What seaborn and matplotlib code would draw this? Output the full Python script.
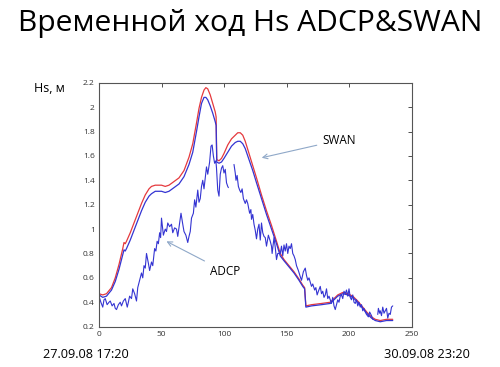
import numpy as np
import pandas as pd
import matplotlib
matplotlib.use("Agg")
import matplotlib.pyplot as plt
from matplotlib.ticker import FuncFormatter
import seaborn as sns

# model runs (smooth curves)
swan_x = [0, 3, 6, 10, 13, 16, 19, 20, 21, 22, 25, 28, 31, 34, 37, 40, 42, 45, 50, 53, 56,
          60, 64, 68, 72, 75, 78, 80, 82, 84, 85.5, 87, 89, 91, 93, 93.7, 94.2, 96, 98,
          100, 103, 106, 109, 111, 113, 115, 117, 120, 123, 126, 130, 134, 138, 142, 145,
          148, 152, 156, 160, 163, 164.5, 165.5, 170, 178, 185, 188, 191, 195, 199, 203,
          207, 211, 215, 218, 221, 225, 230, 235]
swan_red = [0.47, 0.46, 0.47, 0.52, 0.60, 0.71, 0.84, 0.89, 0.88, 0.90, 0.97, 1.05, 1.13,
            1.21, 1.28, 1.33, 1.35, 1.36, 1.36, 1.35, 1.36, 1.39, 1.42, 1.48, 1.59, 1.70,
            1.87, 1.99, 2.08, 2.14, 2.16, 2.15, 2.10, 2.03, 1.96, 1.92, 1.57, 1.56, 1.58,
            1.62, 1.69, 1.74, 1.77, 1.79, 1.79, 1.77, 1.72, 1.62, 1.52, 1.42, 1.28, 1.15,
            1.03, 0.90, 0.80, 0.75, 0.70, 0.65, 0.59, 0.54, 0.52, 0.37, 0.38, 0.39, 0.40,
            0.43, 0.46, 0.48, 0.47, 0.45, 0.41, 0.36, 0.31, 0.28, 0.26, 0.25, 0.26, 0.26]
swan_blue = [0.46, 0.44, 0.45, 0.50, 0.57, 0.67, 0.79, 0.83, 0.82, 0.84, 0.91, 0.99, 1.07,
             1.15, 1.22, 1.27, 1.29, 1.31, 1.31, 1.30, 1.31, 1.34, 1.37, 1.43, 1.53, 1.63,
             1.80, 1.92, 2.03, 2.08, 2.08, 2.06, 2.01, 1.95, 1.88, 1.85, 1.55, 1.54, 1.55,
             1.58, 1.63, 1.68, 1.71, 1.72, 1.72, 1.70, 1.66, 1.57, 1.48, 1.38, 1.25, 1.12,
             1.00, 0.88, 0.78, 0.74, 0.69, 0.64, 0.58, 0.53, 0.51, 0.36, 0.37, 0.38, 0.39,
             0.42, 0.45, 0.47, 0.46, 0.44, 0.40, 0.35, 0.30, 0.27, 0.25, 0.24, 0.25, 0.25]

# measurements (ADCP), NaN = gap in record
adcp_x = [0, 1.5, 3, 4, 5, 6.5, 8, 9, 10.5, 12, 13, 14, 15.5, 17, 18, 19.5, 21, 22.6, 23.5,
          24.5, 26, 27, 28.5, 30, 31, 32.5, 34, 35, 36, 37, 38, 39.5, 40.5, 42, 43, 44.5,
          45.5, 46.5, 47.5, 48.5, 49.3, 50, 51.5, 53, 54, 55, 56.5, 58, 59, 60.5, 62, 63,
          64.5, 65.6, 67, 68, 69.5, 71, 72, 73, 74, 75.5, 76.5, 77.5, 79, 80, 81, 82, 83,
          84, 85, 86, 87, 88.5, 89.6, 90.5, 91.5, 92.5, 93.5, 94, 95, 96, 97, 98, 99, 100,
          101, 102, 103, 103.5, 105, 108, 109, 109.6, 110.5, 111.5, 112.5, 113.5, 114.5,
          115.5, 117, 118, 119, 120.5, 121.5, 122, 123, 124, 125, 126, 127, 128, 129, 130,
          131, 132, 133, 134, 135.5, 137, 138, 138.5, 140, 141, 142, 143, 145, 146, 147,
          148, 149, 150, 151, 152, 153, 154, 155, 156, 157, 158, 159.5, 161, 162, 163.5,
          165, 166, 167, 168, 170, 171, 172.5, 173.5, 174.5, 175.5, 177, 178, 179, 180,
          181, 182, 183, 184, 186, 187, 188, 189, 190, 191, 192, 193, 194, 195, 196, 197,
          198, 199, 200, 201, 202, 203, 204, 205, 206, 207, 208, 209, 210, 211, 212, 213,
          214, 215.5, 216.5, 218, 219, 221, 223, 223.5, 224.5, 225, 226, 227, 228, 229,
          230, 231, 232, 233, 234, 235]
adcp_y = [0.45, 0.40, 0.36, 0.42, 0.43, 0.38, 0.40, 0.41, 0.37, 0.39, 0.35, 0.34, 0.38,
          0.40, 0.37, 0.41, 0.43, 0.36, 0.40, 0.45, 0.43, 0.51, 0.47, 0.41, 0.52, 0.58,
          0.64, 0.60, 0.70, 0.68, 0.80, 0.72, 0.66, 0.73, 0.70, 0.84, 0.82, 0.90, 0.88,
          0.97, 0.93, 1.09, 0.95, 1.00, 0.98, 1.05, 1.02, 1.04, 0.97, 1.01, 1.00, 0.94,
          1.05, 1.13, 1.04, 0.98, 0.95, 0.89, 0.94, 0.98, 1.09, 1.13, 1.24, 1.18, 1.32,
          1.22, 1.25, 1.35, 1.40, 1.33, 1.42, 1.51, 1.45, 1.55, 1.68, 1.69, 1.60, 1.54,
          1.56, 1.50, 1.32, 1.27, 1.45, 1.50, 1.52, 1.46, 1.49, 1.38, 1.35, 1.34, np.nan,
          1.53, 1.46, 1.40, 1.44, 1.35, 1.32, 1.30, 1.33, 1.25, 1.21, 1.24, 1.21, 1.13,
          1.16, 1.08, 1.12, 1.04, 0.99, 0.92, 1.00, 1.04, 0.91, 1.05, 0.97, 0.94, 0.93,
          0.86, 0.95, 0.90, 0.86, 0.80, 0.93, 0.85, 0.75, 0.80, 0.80, 0.86, 0.78, 0.87,
          0.82, 0.88, 0.80, 0.86, 0.84, 0.88, 0.80, 0.78, 0.75, 0.70, 0.66, 0.61, 0.58,
          0.65, 0.68, 0.62, 0.58, 0.60, 0.53, 0.55, 0.50, 0.52, 0.46, 0.49, 0.53, 0.47,
          0.49, 0.44, 0.46, 0.51, 0.43, 0.45, 0.39, 0.44, 0.37, 0.34, 0.38, 0.42, 0.40,
          0.45, 0.46, 0.43, 0.49, 0.47, 0.50, 0.45, 0.51, 0.44, 0.42, 0.46, 0.40, 0.39,
          0.42, 0.37, 0.40, 0.36, 0.38, 0.33, 0.35, 0.32, 0.30, 0.28, 0.32, 0.29, 0.26,
          np.nan, 0.30, 0.35, 0.31, 0.33, 0.29, 0.36, 0.31, 0.33, 0.35, 0.27, 0.31, 0.30,
          0.36, 0.37]

x_ticks = [0, 50, 100, 150, 200, 250]
y_ticks = [0.2, 0.4, 0.6, 0.8, 1.0, 1.2, 1.4, 1.6, 1.8, 2.0, 2.2]

sns.set_style("white")
plt.rcParams['font.family'] = ['Open Sans', 'DejaVu Sans']
plt.rcParams['text.color'] = 'black'

RED = "#e5393d"
BLUE = "#3434d2"

fig = plt.figure(figsize=(5, 3.67), dpi=100)
ax = fig.add_axes([0.198, 0.110, 0.625, 0.6645])

sns.lineplot(x=swan_x, y=swan_red, color=RED, lw=0.9, ax=ax, estimator=None, sort=False)
sns.lineplot(x=swan_x, y=swan_blue, color=BLUE, lw=0.9, ax=ax, estimator=None, sort=False)

# break ADCP into continuous pieces
adcp = pd.DataFrame({'x': adcp_x, 'y': adcp_y})
seg = adcp['y'].isna().cumsum()
for _, part in adcp.dropna().groupby(seg[adcp['y'].notna()]):
    sns.lineplot(data=part, x='x', y='y', color=BLUE, lw=0.8, ax=ax,
                 estimator=None, sort=False)

ax.set_xlim(0, 250)
ax.set_ylim(0.2, 2.2)
ax.set_xticks(x_ticks)
ax.set_yticks(y_ticks)
ax.yaxis.set_major_formatter(FuncFormatter(lambda v, p: f"{v:g}"))
ax.set_xlabel("")
ax.set_ylabel("")
ax.tick_params(direction='in', length=3, width=0.6, top=True, right=True,
               labelsize=6, colors="#333333", pad=3)
for s in ax.spines.values():
    s.set_color("#555555")
    s.set_linewidth(0.8)

arrow_kw = dict(arrowstyle="->", color="#8fa8c8", lw=0.8)
ax.annotate("SWAN", xy=(128, 1.58), xytext=(179, 1.73), fontsize=8.5,
            va='center', ha='left', arrowprops=arrow_kw)
ax.annotate("ADCP", xy=(52, 0.91), xytext=(89, 0.65), fontsize=8.5,
            va='center', ha='left', arrowprops=arrow_kw)

fig.text(0.5, 0.937, "Временной ход Hs ADCP&SWAN", ha='center', va='center', fontsize=21.6)
fig.text(0.068, 0.76, "Hs, м", ha='left', va='center', fontsize=9)
fig.text(0.086, 0.035, "27.09.08 17:20", ha='left', va='center', fontsize=9.2)
fig.text(0.94, 0.035, "30.09.08 23:20", ha='right', va='center', fontsize=9.2)

fig.savefig("out.png", dpi=100, facecolor="white")
